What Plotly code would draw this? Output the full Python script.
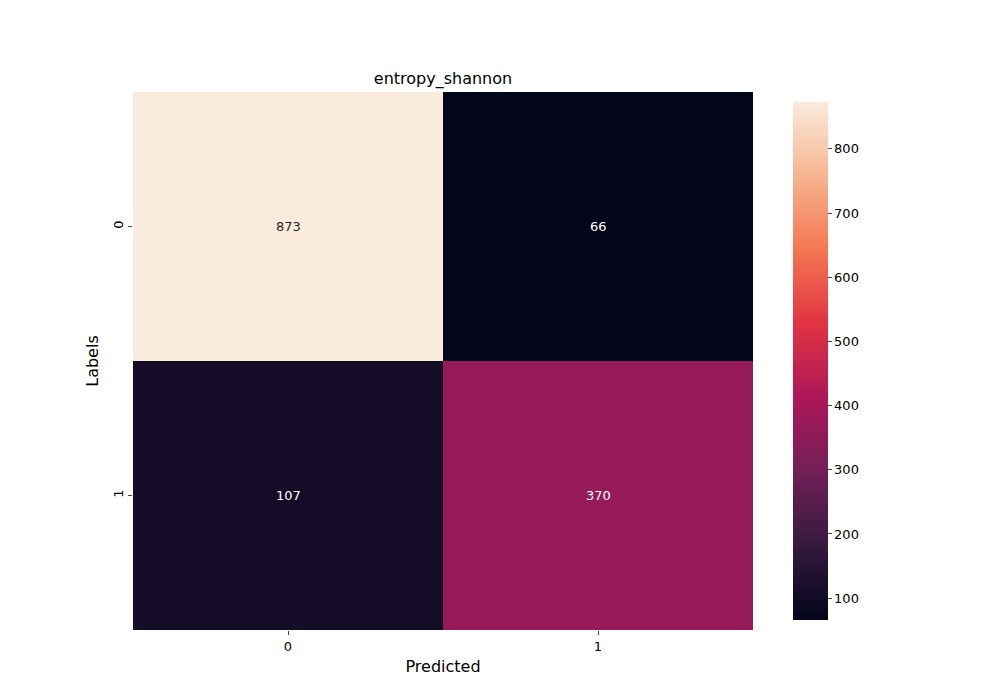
import plotly.graph_objects as go

labels = ["0", "1"]
predicted = ["0", "1"]
counts = [[873, 66],
          [107, 370]]
cbar_ticks = [100, 200, 300, 400, 500, 600, 700, 800]

rocket = [
    [0.0, "#03051a"], [1/7, "#35193e"], [2/7, "#701f57"], [3/7, "#ad1759"],
    [4/7, "#e13342"], [5/7, "#f37651"], [6/7, "#f6b48f"], [1.0, "#faebdd"],
]

zmin = min(min(r) for r in counts)
zmax = max(max(r) for r in counts)

fig = go.Figure(go.Heatmap(
    z=counts, x=predicted, y=labels, colorscale=rocket, zmin=zmin, zmax=zmax,
    colorbar=dict(x=(775 - 125) / 620, xanchor="left", thickness=35, len=1,
                  y=0.5, yanchor="middle", tickvals=cbar_ticks, ticks="outside",
                  outlinewidth=0, ticklen=4, tickfont=dict(size=13)),
))

for i, row in enumerate(counts):
    for j, v in enumerate(row):
        frac = (v - zmin) / (zmax - zmin)
        fig.add_annotation(x=predicted[j], y=labels[i], text=str(v), showarrow=False,
                           font=dict(size=13, color="#262626" if frac > 0.6 else "white"))

fig.update_layout(
    width=1000, height=700,
    margin=dict(l=125, r=255, t=84, b=78),
    paper_bgcolor="white", plot_bgcolor="white",
    font=dict(family="DejaVu Sans", size=13, color="black"),
    title=dict(text="entropy_shannon", x=(125 + 745) / 2 / 1000, xanchor="center",
               y=1 - 70 / 700, yanchor="middle", font=dict(size=16)),
    xaxis=dict(title=dict(text="Predicted", standoff=8), ticks="outside", ticklen=4,
               showgrid=False, zeroline=False),
    yaxis=dict(title=dict(text="Labels", standoff=8), ticks="outside", ticklen=4,
               tickangle=-90, autorange="reversed", showgrid=False, zeroline=False),
)

fig.write_html("out.html")
